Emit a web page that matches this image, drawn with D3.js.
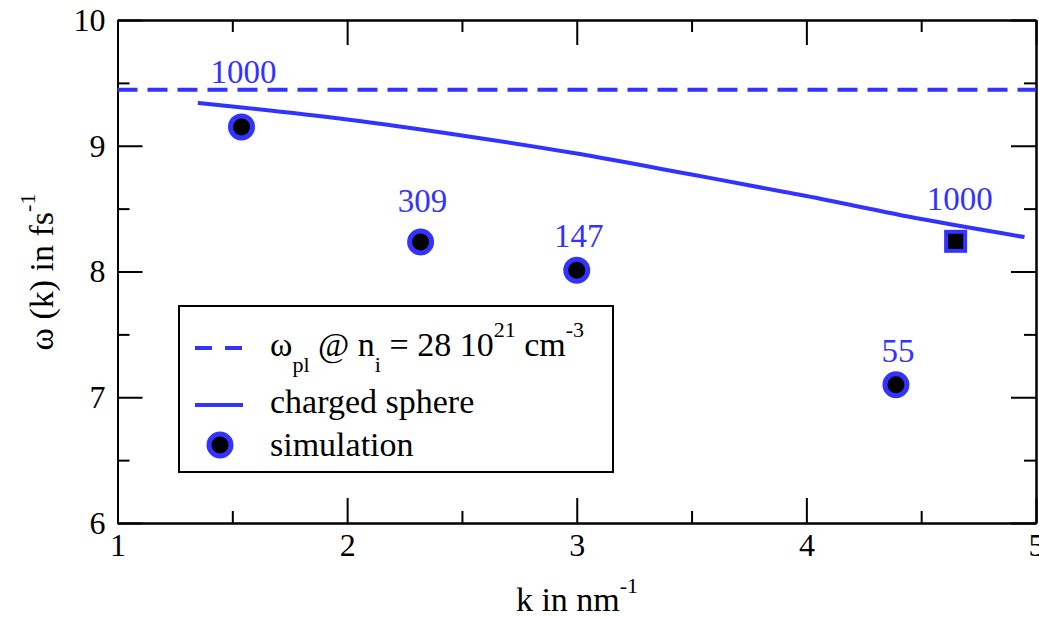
<!DOCTYPE html>
<html>
<head>
<meta charset="utf-8">
<script src="https://cdn.jsdelivr.net/npm/d3@7"></script>
<style>
  body { margin: 0; background: #fff; }
  svg text { font-family: "Liberation Serif", "Times New Roman", Times, "DejaVu Serif", "Noto Serif", serif; }
</style>
</head>
<body>
<script>
// charged sphere model curve
var sphereK = [1.35, 1.5, 2.0, 2.5, 3.0, 3.5, 4.0, 4.5, 4.95]
var sphereW = [9.34, 9.312, 9.209, 9.082, 8.938, 8.771, 8.600, 8.417, 8.274]

// plasma frequency line
var omegaPl = 9.445

// simulation points
var simK = [1.54, 2.32, 3.0, 4.39]
var simW = [9.15, 8.235, 8.01, 7.10]
var simLabel = ["1000", "309", "147", "55"]

// square point
var sqK = [4.65]
var sqW = [8.24]
var sqLabel = ["1000"]

var xTicks = [1, 2, 3, 4, 5]
var yTicks = [6, 7, 8, 9, 10]

var blue = "#3333ff"
var serif = "'Liberation Serif', 'Times New Roman', Times, 'DejaVu Serif', serif"

function main() {
  var svg = d3.select("body").append("svg").attr("width", 1039).attr("height", 618)
    .attr("font-family", serif)

  var x = d3.scaleLinear().domain([1, 5]).range([117.5, 1036])
  var y = d3.scaleLinear().domain([6, 10]).range([523, 20])

  var minorX = d3.range(1.5, 5, 1)
  var minorY = d3.range(6.5, 10, 1)

  // axes, ticks pointing inward on all four sides
  addAxis(svg, d3.axisBottom(x).tickValues(xTicks).tickSize(-25).tickPadding(10).tickFormat(d3.format("d")), "translate(0,523)")
  addAxis(svg, d3.axisBottom(x).tickValues(minorX).tickSize(-12).tickFormat(""), "translate(0,523)")
  addAxis(svg, d3.axisLeft(y).tickValues(yTicks).tickSize(-25).tickPadding(12).tickFormat(d3.format("d")), "translate(117.5,0)")
  addAxis(svg, d3.axisLeft(y).tickValues(minorY).tickSize(-12).tickFormat(""), "translate(117.5,0)")
  addAxis(svg, d3.axisTop(x).tickValues(xTicks).tickSize(-25).tickFormat(""), "translate(0,20)")
  addAxis(svg, d3.axisTop(x).tickValues(minorX).tickSize(-12).tickFormat(""), "translate(0,20)")
  addAxis(svg, d3.axisRight(y).tickValues(yTicks).tickSize(-25).tickFormat(""), "translate(1036,0)")
  addAxis(svg, d3.axisRight(y).tickValues(minorY).tickSize(-12).tickFormat(""), "translate(1036,0)")

  // dashed plasma line
  svg.append("line")
    .attr("x1", x(1)).attr("x2", x(5))
    .attr("y1", y(omegaPl)).attr("y2", y(omegaPl))
    .attr("stroke", blue).attr("stroke-width", 4)
    .attr("stroke-dasharray", "20,10")

  // charged sphere
  var line = d3.line().x(function(d) { return x(d[0]) }).y(function(d) { return y(d[1]) }).curve(d3.curveMonotoneX)
  svg.append("path")
    .datum(d3.zip(sphereK, sphereW))
    .attr("d", line)
    .attr("fill", "none").attr("stroke", blue).attr("stroke-width", 4)

  // simulation circles
  var sim = d3.zip(simK, simW, simLabel)
  svg.selectAll("circle.sim").data(sim).enter().append("circle")
    .attr("class", "sim")
    .attr("cx", function(d) { return x(d[0]) })
    .attr("cy", function(d) { return y(d[1]) })
    .attr("r", 11)
    .attr("fill", "black").attr("stroke", blue).attr("stroke-width", 5)

  var labelDy = [-44, -30, -23, -23]
  svg.selectAll("text.sim").data(sim).enter().append("text")
    .attr("class", "sim")
    .attr("x", function(d) { return x(d[0]) + 2 })
    .attr("y", function(d, i) { return y(d[1]) + labelDy[i] })
    .attr("text-anchor", "middle")
    .attr("font-size", 33).attr("fill", blue)
    .text(function(d) { return d[2] })

  // square point
  var sq = d3.zip(sqK, sqW, sqLabel)
  svg.selectAll("rect.sq").data(sq).enter().append("rect")
    .attr("x", function(d) { return x(d[0]) - 9.5 })
    .attr("y", function(d) { return y(d[1]) - 9.5 })
    .attr("width", 19).attr("height", 19)
    .attr("fill", "black").attr("stroke", blue).attr("stroke-width", 4)
  svg.selectAll("text.sq").data(sq).enter().append("text")
    .attr("class", "sq")
    .attr("x", function(d) { return x(d[0]) + 4 })
    .attr("y", function(d) { return y(d[1]) - 31 })
    .attr("text-anchor", "middle")
    .attr("font-size", 33).attr("fill", blue)
    .text(function(d) { return d[2] })

  // axis titles
  var xt = svg.append("text").attr("x", 577).attr("y", 611).attr("text-anchor", "middle").attr("font-size", 34)
  xt.append("tspan").text("k in nm")
  xt.append("tspan").attr("dy", -18).attr("font-size", 22).text("-1")

  var yt = svg.append("text").attr("transform", "translate(53,272) rotate(-90)").attr("text-anchor", "middle").attr("font-size", 34)
  yt.append("tspan").text("ω (k) in fs")
  yt.append("tspan").attr("dy", -18).attr("font-size", 22).text("-1")

  // legend
  svg.append("rect").attr("x", 179).attr("y", 306).attr("width", 434).attr("height", 166)
    .attr("fill", "white").attr("stroke", "black").attr("stroke-width", 2)
  svg.append("line").attr("x1", 195).attr("x2", 243).attr("y1", 348).attr("y2", 348)
    .attr("stroke", blue).attr("stroke-width", 4).attr("stroke-dasharray", "17,13")
  svg.append("line").attr("x1", 195).attr("x2", 243).attr("y1", 405).attr("y2", 405)
    .attr("stroke", blue).attr("stroke-width", 4)
  svg.append("circle").attr("cx", 220).attr("cy", 445).attr("r", 11)
    .attr("fill", "black").attr("stroke", blue).attr("stroke-width", 5)

  var l1 = svg.append("text").attr("x", 270).attr("y", 356).attr("font-size", 34)
  l1.append("tspan").text("ω")
  l1.append("tspan").attr("dy", 16).attr("font-size", 22).text("pl")
  l1.append("tspan").attr("dy", -16).text(" @ n")
  l1.append("tspan").attr("dy", 16).attr("font-size", 22).text("i")
  l1.append("tspan").attr("dy", -16).text(" = 28 10")
  l1.append("tspan").attr("dy", -19).attr("font-size", 22).text("21")
  l1.append("tspan").attr("dy", 19).text(" cm")
  l1.append("tspan").attr("dy", -19).attr("font-size", 22).text("-3")

  svg.append("text").attr("x", 270).attr("y", 413).attr("font-size", 34).text("charged sphere")
  svg.append("text").attr("x", 270).attr("y", 456).attr("font-size", 34).text("simulation")
}

function addAxis(svg, axis, transform) {
  var g = svg.append("g").attr("transform", transform).call(axis.tickSizeOuter(0))
  g.attr("font-family", serif)
  g.select(".domain").attr("stroke", "black").attr("stroke-width", 2)
  g.selectAll(".tick line").attr("stroke", "black").attr("stroke-width", 2)
  g.selectAll(".tick text").attr("font-size", 32).attr("fill", "black")
  return g
}

main()
</script>
</body>
</html>
